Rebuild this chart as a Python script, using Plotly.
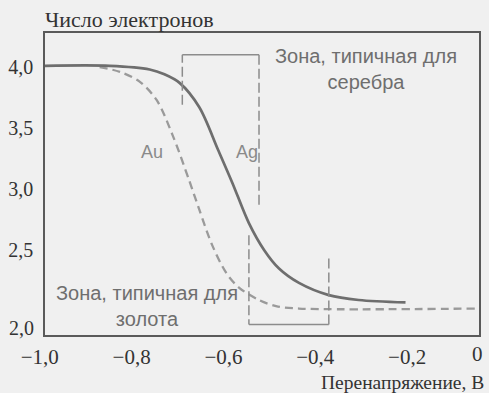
import plotly.graph_objects as go

# ---- data ----
ag_x = [-1.0, -0.859, -0.772, -0.740, -0.707, -0.664, -0.623, -0.592, -0.556, -0.523, -0.491, -0.447, -0.382, -0.317, -0.215]
ag_y = [4.01, 4.01, 3.98, 3.94, 3.87, 3.67, 3.32, 3.05, 2.72, 2.50, 2.35, 2.23, 2.13, 2.09, 2.07]

au_x = [-0.881, -0.837, -0.794, -0.757, -0.722, -0.686, -0.664, -0.636, -0.605, -0.577, -0.534, -0.497, -0.447, -0.055]
au_y = [4.0, 3.96, 3.88, 3.73, 3.44, 3.07, 2.83, 2.54, 2.31, 2.19, 2.09, 2.04, 2.02, 2.02]

# zone "typical for silver": dashed sides, solid top
ag_zone_x = [-0.701, -0.534]
ag_zone_top = 4.10
ag_zone_left_bottom = 3.69
ag_zone_right_bottom = 2.85

# zone "typical for gold": dashed sides, solid bottom
au_zone_x = [-0.556, -0.382]
au_zone_bottom = 1.89
au_zone_left_top = 2.62
au_zone_right_top = 2.43

x_ticks = [-1.0, -0.8, -0.6, -0.4, -0.2]
x_tick_text = ["\u22121,0", "\u22120,8", "\u22120,6", "\u22120,4", "\u22120,2"]
x_end_label = "0"
y_ticks = [2.5, 3.0, 3.5, 4.0]
y_tick_text = ["2,5", "3,0", "3,5", "4,0"]
y_end_label = "2,0"

curve_col = "#6e6e6e"
dash_col = "#9a9a9a"
zone_col = "#8c8c8c"
frame_col = "#5a5a5a"
text_col = "#333333"
label_col = "#6e6e6e"
bg = "#f0f0f0"

serif = "Liberation Serif, Times New Roman, serif"
sans = "Liberation Sans, Arial, sans-serif"

fig = go.Figure()

fig.add_trace(go.Scatter(x=au_x, y=au_y, mode="lines",
                         line=dict(color=dash_col, width=2.3, dash="8px,5px", shape="spline", smoothing=0.9),
                         hoverinfo="skip"))
fig.add_trace(go.Scatter(x=ag_x, y=ag_y, mode="lines",
                         line=dict(color=curve_col, width=2.7, shape="spline", smoothing=0.9),
                         hoverinfo="skip"))

zone_dash = dict(color=zone_col, width=1.5, dash="10px,4px")
zone_solid = dict(color=zone_col, width=1.5)

# silver zone
fig.add_trace(go.Scatter(x=[ag_zone_x[0], ag_zone_x[0]], y=[ag_zone_left_bottom, ag_zone_top],
                         mode="lines", line=zone_dash, hoverinfo="skip"))
fig.add_trace(go.Scatter(x=ag_zone_x, y=[ag_zone_top, ag_zone_top],
                         mode="lines", line=zone_solid, hoverinfo="skip"))
fig.add_trace(go.Scatter(x=[ag_zone_x[1], ag_zone_x[1]], y=[ag_zone_top, ag_zone_right_bottom],
                         mode="lines", line=zone_dash, hoverinfo="skip"))

# gold zone
fig.add_trace(go.Scatter(x=[au_zone_x[0], au_zone_x[0]], y=[au_zone_left_top, au_zone_bottom],
                         mode="lines", line=zone_dash, hoverinfo="skip"))
fig.add_trace(go.Scatter(x=au_zone_x, y=[au_zone_bottom, au_zone_bottom],
                         mode="lines", line=zone_solid, hoverinfo="skip"))
fig.add_trace(go.Scatter(x=[au_zone_x[1], au_zone_x[1]], y=[au_zone_right_top, au_zone_bottom],
                         mode="lines", line=zone_dash, hoverinfo="skip"))

# pad tick labels on the right so the digits (not the minus) sit on the tick
pad = "\u2002"
x_tick_text_padded = [t + pad for t in x_tick_text]

ann = [
    dict(x=0.0, y=1.0, xref="paper", yref="paper", xanchor="left", yanchor="bottom", yshift=-1, xshift=-2,
         text="Число электронов", showarrow=False, font=dict(family=serif, size=22, color=text_col)),
    dict(x=1.0, y=0.0, xref="paper", yref="paper", xanchor="right", yanchor="middle", yshift=-47, xshift=7,
         text="Перенапряжение, В", showarrow=False, font=dict(family=serif, size=19.5, color=text_col)),
    dict(x=0.0, y=0.023, xref="paper", yref="paper", xanchor="right", yanchor="middle", xshift=-9,
         text=y_end_label, showarrow=False, font=dict(family=serif, size=20, color=text_col)),
    dict(x=1.0, y=0.0, xref="paper", yref="paper", xanchor="center", yanchor="middle", xshift=-2, yshift=-19,
         text=x_end_label, showarrow=False, font=dict(family=serif, size=21, color=text_col)),
    dict(x=-0.302, y=3.98, xref="x", yref="y", xanchor="center", yanchor="middle",
         text="Зона, типичная для<br>серебра", showarrow=False, align="center",
         font=dict(family=sans, size=20, color=label_col)),
    dict(x=-0.779, y=2.04, xref="x", yref="y", xanchor="center", yanchor="middle",
         text="Зона, типичная для<br>золота", showarrow=False, align="center",
         font=dict(family=sans, size=20, color=label_col)),
    dict(x=-0.768, y=3.30, xref="x", yref="y", text="Au", showarrow=False,
         font=dict(family=sans, size=18, color="#8a8a8a")),
    dict(x=-0.560, y=3.30, xref="x", yref="y", text="Ag", showarrow=False,
         font=dict(family=sans, size=18, color="#8a8a8a")),
]

fig.update_layout(
    width=489, height=393,
    margin=dict(l=45, r=8, t=33, b=58),
    paper_bgcolor=bg, plot_bgcolor=bg,
    showlegend=False,
    annotations=ann,
    xaxis=dict(range=[-1.0, -0.055], tickvals=x_ticks, ticktext=x_tick_text_padded,
               showgrid=False, zeroline=False, showline=True, mirror=True,
               linecolor=frame_col, linewidth=1.5, ticks="", ticklabelstandoff=2,
               tickfont=dict(family=serif, size=21, color=text_col)),
    yaxis=dict(range=[1.803, 4.279], tickvals=y_ticks, ticktext=y_tick_text,
               showgrid=False, zeroline=False, showline=True, mirror=True,
               linecolor=frame_col, linewidth=1.5, ticks="", ticklabelstandoff=6,
               tickfont=dict(family=serif, size=20, color=text_col)),
)

fig.write_html("out.html", config={"displayModeBar": False},
               post_script="document.body.style.margin='0';document.body.style.padding='0';")
